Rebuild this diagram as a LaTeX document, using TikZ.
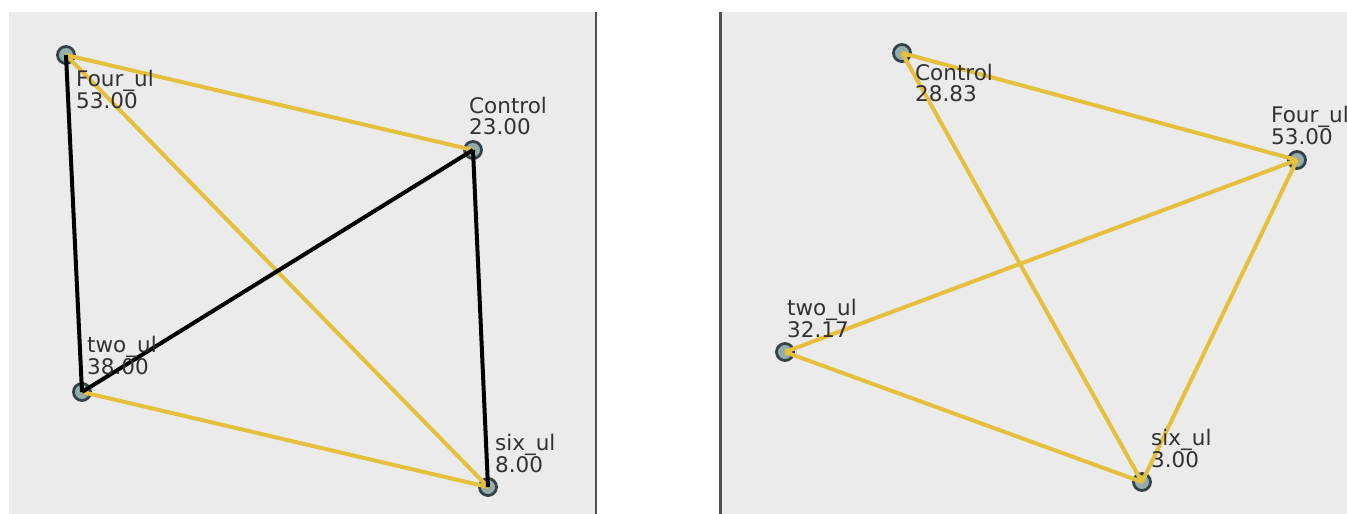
\documentclass[tikz,border=0pt]{standalone}
\usepackage{fontspec}
\setmainfont{DejaVu Sans}
\definecolor{panelgray}{RGB}{235,235,235}
\definecolor{divline}{RGB}{80,80,80}
\definecolor{vtxline}{RGB}{52,66,76}
\definecolor{vtxfill}{RGB}{150,172,170}
\definecolor{edgegold}{RGB}{228,192,60}
\definecolor{lbltext}{RGB}{50,50,50}

\begin{document}
\begin{tikzpicture}[x=1pt,y=-1pt,
    vtx/.style={circle,draw=vtxline,fill=vtxfill,line width=2.8pt,minimum size=17pt,inner sep=0pt},
    lbl/.style={anchor=north west,inner sep=0pt,align=left,text=lbltext,font=\fontsize{21.5}{20.5}\selectfont},
    gold/.style={draw=edgegold,line width=4pt},
    blk/.style={draw=black,line width=4pt}]
    \useasboundingbox (0,0) rectangle (1347,514);
    % panels
    \fill[panelgray] (9,12) rectangle (595,514);
    \fill[panelgray] (722,12) rectangle (1347,514);
    \draw[divline,line width=2.5pt] (596,12) -- (596,514);
    \draw[divline,line width=3pt] (720,12) -- (720,514);
    % left graph
    \node[vtx] (fourL) at (66,55) {};
    \node[vtx] (ctrlL) at (473,150) {};
    \node[vtx] (twoL) at (82,392) {};
    \node[vtx] (sixL) at (488,487) {};
    \draw[gold] (fourL.center) -- (ctrlL.center);
    \draw[gold] (fourL.center) -- (sixL.center);
    \draw[gold] (twoL.center) -- (sixL.center);
    \draw[blk] (fourL.center) -- (twoL.center);
    \draw[blk] (ctrlL.center) -- (sixL.center);
    \draw[blk] (ctrlL.center) -- (twoL.center);
    \node[lbl] (fourLtxt) at (76,70) {Four\_ul\\53.00};
    \node[lbl] (ctrlLtxt) at (469,97) {Control\\23.00};
    \node[lbl] (twoLtxt) at (87,336) {two\_ul\\38.00};
    \node[lbl] (sixLtxt) at (495,434) {six\_ul\\8.00};
    % right graph
    \node[vtx] (ctrlR) at (902,53) {};
    \node[vtx] (fourR) at (1297,160) {};
    \node[vtx] (twoR) at (785,352) {};
    \node[vtx] (sixR) at (1142,482) {};
    \draw[gold] (ctrlR.center) -- (fourR.center);
    \draw[gold] (ctrlR.center) -- (sixR.center);
    \draw[gold] (fourR.center) -- (twoR.center);
    \draw[gold] (fourR.center) -- (sixR.center);
    \draw[gold] (twoR.center) -- (sixR.center);
    \node[lbl] (ctrlRtxt) at (915,64) {Control\\28.83};
    \node[lbl] (fourRtxt) at (1271,106) {Four\_ul\\53.00};
    \node[lbl] (twoRtxt) at (787,299) {two\_ul\\32.17};
    \node[lbl] (sixRtxt) at (1151,429) {six\_ul\\3.00};
\end{tikzpicture}
\end{document}
